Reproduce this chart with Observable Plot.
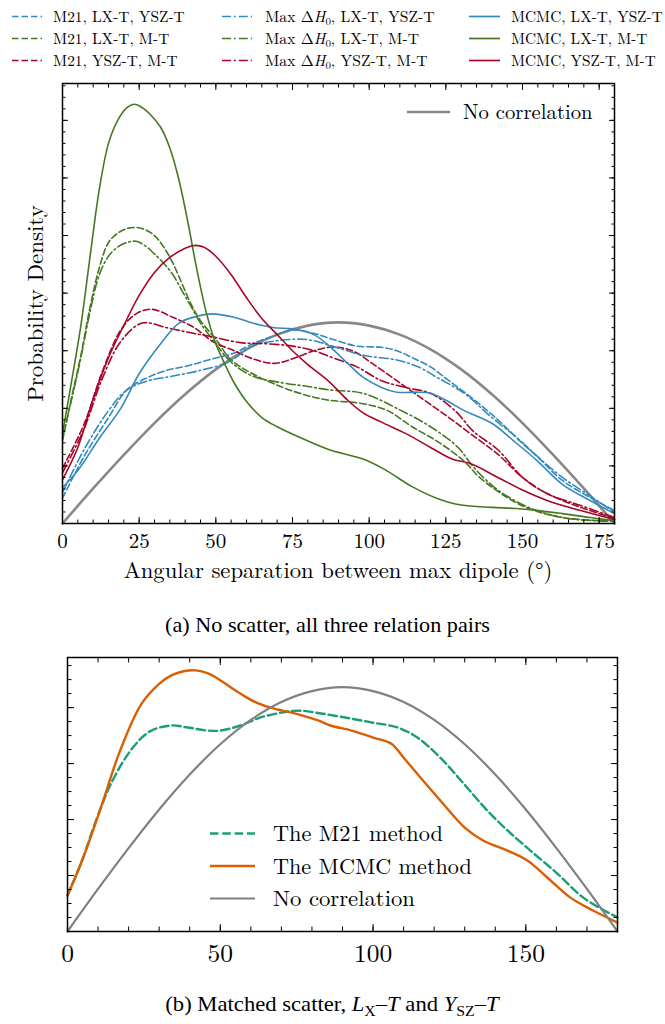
<!DOCTYPE html>
<html>
<head>
<meta charset="utf-8">
<script src="https://cdn.jsdelivr.net/npm/d3@7"></script>
<script src="https://cdn.jsdelivr.net/npm/@observablehq/plot@0.6"></script>
<style>
html,body{margin:0;padding:0;background:#fff;}
#root{position:relative;width:665px;height:1024px;overflow:hidden;background:#fff;}
</style>
</head>
<body>
<div id="root"></div>
<script>
// ================= DATA =================
const methods = ["M21", "Max ΔH0", "MCMC"];
const relationPairs = ["LX-T, YSZ-T", "LX-T, M-T", "YSZ-T, M-T"];
const xTicksA = [0, 25, 50, 75, 100, 125, 150, 175];
const yTicksA = [0, 2.5, 5, 7.5, 10, 12.5, 15, 17.5];
const xTicksB = [0, 50, 100, 150];
const yTicksB = [0, 2, 4, 6, 8];
const xLabelA = "Angular separation between max dipole (°)";
const yLabelA = "Probability Density";
const legendB = ["The M21 method", "The MCMC method", "No correlation"];
const captionA = "(a) No scatter, all three relation pairs";

// density (x10^-3 per degree) vs angle (deg)
const noCorrelation = [[0,0],[10,1.52],[20,2.98],[30,4.36],[40,5.61],[50,6.69],[60,7.56],[70,8.20],[80,8.59],[90,8.73],[100,8.59],[110,8.20],[120,7.56],[130,6.69],[140,5.61],[150,4.36],[160,2.98],[170,1.52],[180,0]];

const m21LxYsz = [[0,1.1],[7,2.9],[15,4.6],[21,5.8],[28,6.35],[34,6.65],[41,6.85],[49,7.15],[56,7.4],[62,7.8],[69,8.15],[75,8.4],[82,8.25],[88,8.0],[96,7.7],[104,7.65],[109,7.5],[114,7.2],[120,6.8],[126,6.2],[133,5.5],[142,4.5],[149,3.6],[156,2.75],[163,1.87],[172,1.13],[180,0.56]];
const m21LxM = [[0,3.6],[3,5.5],[6,7.3],[9,9.4],[12,11.1],[15,12.2],[18,12.6],[21,12.8],[24,12.85],[27,12.75],[30,12.5],[33,12.0],[36,11.3],[39,10.4],[42,9.5],[45,8.8],[50,8.0],[55,7.1],[62,6.5],[72,5.9],[80,5.55],[87,5.35],[98,5.2],[106,4.9],[114,4.2],[123,3.5],[131,2.7],[136,2.0],[145,1.13],[152,0.65],[163,0.26],[174,0.13],[180,0.1]];
const m21YszM = [[0,2.4],[7,4.3],[13,6.6],[19,8.4],[24,9.1],[29,9.3],[36,8.95],[43,8.5],[49,7.9],[56,7.5],[62,7.15],[69,6.95],[75,7.15],[82,7.5],[87,7.65],[92,7.6],[96,7.4],[101,6.95],[109,6.2],[118,5.35],[126,4.6],[133,3.9],[142,3.0],[150,2.0],[158,1.3],[169,0.7],[180,0.22]];
const maxLxYsz = [[0,1.35],[7,3.2],[15,4.9],[21,5.8],[28,6.2],[36,6.4],[45,6.65],[54,7.0],[62,7.7],[71,7.95],[80,7.98],[88,7.7],[98,7.3],[109,7.1],[116,6.8],[122,6.35],[131,5.65],[140,4.6],[148,3.75],[155,2.9],[163,2.0],[172,1.2],[180,0.48]];
const maxLxM = [[0,3.7],[3,5.4],[6,7.2],[9,9.2],[12,10.8],[15,11.6],[18,12.0],[21,12.2],[24,12.25],[27,12.05],[30,11.7],[33,11.3],[36,10.8],[39,10.1],[42,9.4],[45,8.7],[50,7.8],[55,7.0],[62,6.4],[72,6.1],[80,5.95],[87,5.8],[98,5.65],[109,5.0],[120,4.2],[129,3.3],[134,2.45],[142,1.45],[152,0.7],[163,0.26],[174,0.12],[180,0.1]];
const maxYszM = [[0,2.2],[7,4.1],[13,6.3],[19,7.9],[26,8.7],[34,8.5],[41,8.3],[49,8.1],[58,7.85],[67,7.8],[75,7.7],[82,7.5],[87,7.25],[96,6.8],[104,6.2],[112,5.9],[120,5.65],[128,4.9],[134,4.0],[142,3.2],[150,2.0],[158,1.3],[169,0.78],[180,0.26]];
const mcmcLxYsz = [[0,1.56],[5,2.3],[12,3.7],[19,5.0],[25,6.5],[32,7.8],[38,8.7],[44,9.0],[49,9.1],[56,8.95],[62,8.7],[69,8.5],[75,8.45],[82,8.2],[87,7.7],[93,6.95],[98,6.35],[104,5.9],[109,5.7],[116,5.7],[120,5.65],[125,5.35],[131,4.9],[140,4.35],[147,3.6],[155,2.7],[163,1.7],[172,1.0],[180,0.43]];
const mcmcLxM = [[0,3.9],[3,6.2],[6,8.6],[9,11.6],[12,14.5],[15,16.5],[18,17.5],[21,18.05],[23.5,18.2],[26,18.05],[29,17.7],[32,17.2],[35,16.3],[38,14.9],[41,13.0],[44,10.9],[47,9.1],[50,7.8],[53,6.9],[56,6.1],[60,5.3],[65,4.6],[70,4.2],[78,3.7],[87,3.2],[98,2.8],[105,2.35],[114,1.6],[122,1.1],[130,0.8],[140,0.7],[148,0.65],[156,0.55],[163,0.43],[170,0.3],[175,0.2],[180,0.13]];
const mcmcYszM = [[0,1.9],[5,3.3],[10,5.4],[15,7.2],[20,8.6],[25,9.9],[30,10.9],[35,11.55],[40,11.95],[43,12.07],[46,12.0],[50,11.6],[55,10.8],[60,9.8],[65,8.9],[70,8.2],[75,7.5],[80,6.9],[87,6.15],[93,5.35],[98,4.8],[104,4.4],[112,3.9],[120,3.3],[127,2.8],[133,2.6],[142,2.0],[150,1.45],[158,1.0],[169,0.56],[180,0.17]];

const m21B = [[0,1.29],[4.3,2.4],[9.8,4.1],[15,5.45],[21.6,6.6],[27,7.15],[33.7,7.36],[39.3,7.29],[45.8,7.18],[50,7.18],[56.6,7.36],[63,7.64],[70,7.82],[76,7.89],[83,7.79],[92.6,7.61],[100,7.46],[108,7.29],[114.5,6.93],[122,6.21],[129.6,5.29],[137.4,4.32],[144,3.61],[151.5,2.89],[160.3,2.07],[168.8,1.21],[180,0.5]];
const mcmcB = [[0,1.29],[5,2.6],[11,4.45],[17,6.4],[24,8.1],[30,8.85],[34,9.15],[38,9.3],[42,9.33],[46,9.22],[50,8.98],[54,8.68],[58,8.4],[62,8.17],[67,7.98],[74,7.8],[82,7.54],[86,7.36],[93,7.18],[100,6.93],[106,6.71],[110,6.21],[115.5,5.5],[122,4.68],[130,3.71],[136,3.25],[144,2.89],[150.5,2.54],[157,1.93],[164.6,1.21],[172,0.75],[180,0.32]];

// series table (method index, pair index, values)
const seriesA = [
  {m: 0, p: 0, data: m21LxYsz}, {m: 0, p: 1, data: m21LxM}, {m: 0, p: 2, data: m21YszM},
  {m: 1, p: 0, data: maxLxYsz}, {m: 1, p: 1, data: maxLxM}, {m: 1, p: 2, data: maxYszM},
  {m: 2, p: 0, data: mcmcLxYsz}, {m: 2, p: 1, data: mcmcLxM}, {m: 2, p: 2, data: mcmcYszM}
];

// ================= STYLES =================
const pairColors = ["#348ABD", "#467821", "#A60628"];
const methodDash = ["6.5,3", "9,3,1.8,3", null];
const grayA = "#888888", grayB = "#808080";
const colB = {m21: "#1b9e77", mcmc: "#d95f02"};

function hasFont(f) {
  const c = document.createElement("canvas").getContext("2d");
  const s = "mmmmmmmmmmlli WQ@#AaBbgy 0123456789";
  for (const fb of ["monospace", "sans-serif"]) {
    c.font = `40px ${fb}`; const w1 = c.measureText(s).width;
    c.font = `40px "${f}", ${fb}`; const w2 = c.measureText(s).width;
    if (Math.abs(w1 - w2) < 0.01) return false;
  }
  return true;
}
const cmLike = ["Latin Modern Roman", "CMU Serif", "Computer Modern", "Liberation Serif", "Times New Roman", "DejaVu Serif"].find(hasFont) || "serif";
const timesLike = ["Liberation Serif", "Times New Roman", "Tinos", "Nimbus Roman", "Nimbus Roman No9 L", "FreeSerif", "TeX Gyre Termes", cmLike].find(hasFont) || "serif";
const FONT = `"${cmLike}", serif`;
const CAPFONT = `"${timesLike}", serif`;

const root = document.getElementById("root");

function frameTicks(xMajor, xMinor, yMajor, yMinor, big, small) {
  const o = {fill: "none", label: null, strokeWidth: 1};
  return [
    Plot.axisX(xMinor, {...o, anchor: "bottom", tickSize: -small}),
    Plot.axisX(xMajor, {...o, anchor: "bottom", tickSize: -big}),
    Plot.axisX(xMinor, {...o, anchor: "top", tickSize: -small}),
    Plot.axisX(xMajor, {...o, anchor: "top", tickSize: -big}),
    Plot.axisY(yMinor, {...o, anchor: "left", tickSize: -small}),
    Plot.axisY(yMajor, {...o, anchor: "left", tickSize: -big}),
    Plot.axisY(yMinor, {...o, anchor: "right", tickSize: -small}),
    Plot.axisY(yMajor, {...o, anchor: "right", tickSize: -big})
  ];
}

const xy = {x: d => d[0], y: d => d[1], curve: "catmull-rom"};

// ================= PANEL A =================
const plotA = Plot.plot({
  width: 665, height: 530,
  marginTop: 23, marginBottom: 67, marginLeft: 62, marginRight: 51,
  x: {domain: [0, 180], axis: null},
  y: {domain: [0, 19.1], axis: null},
  style: {fontFamily: FONT, fontSize: "21px", color: "#000", background: "transparent"},
  marks: [
    Plot.line(noCorrelation, {...xy, stroke: grayA, strokeWidth: 2.6}),
    ...seriesA.map(s => Plot.line(s.data, {...xy, stroke: pairColors[s.p], strokeWidth: 1.6,
        strokeDasharray: methodDash[s.m] || undefined})),
    ...frameTicks(xTicksA, d3.range(0, 181, 5), yTicksA, d3.range(0, 19.1, 0.5), 6, 3.5),
    Plot.axisX(xTicksA, {anchor: "bottom", tickSize: 0, tickPadding: 10, label: null, fontSize: 21}),
    Plot.frame({stroke: "#000", strokeWidth: 1.5})
  ]
});
plotA.style.position = "absolute"; plotA.style.left = "0px"; plotA.style.top = "60px";
root.appendChild(plotA);

// ================= PANEL B =================
const plotB = Plot.plot({
  width: 665, height: 340,
  marginTop: 17, marginBottom: 49, marginLeft: 67, marginRight: 48,
  x: {domain: [0, 180], axis: null},
  y: {domain: [0, 9.79], axis: null},
  style: {fontFamily: FONT, fontSize: "25.5px", color: "#000", background: "transparent"},
  marks: [
    Plot.line(m21B, {...xy, stroke: colB.m21, strokeWidth: 2.4, strokeDasharray: "8.5,3.8"}),
    Plot.line(mcmcB, {...xy, stroke: colB.mcmc, strokeWidth: 2.4}),
    Plot.line(noCorrelation, {...xy, stroke: grayB, strokeWidth: 2.2}),
    ...frameTicks(xTicksB, d3.range(0, 181, 10), yTicksB, d3.range(0, 9.79, 0.5), 7, 4.5),
    Plot.axisX(xTicksB, {anchor: "bottom", tickSize: 0, tickPadding: 12, label: null, fontSize: 25.5}),
    Plot.frame({stroke: "#000", strokeWidth: 1.5})
  ]
});
plotB.style.position = "absolute"; plotB.style.left = "0px"; plotB.style.top = "640px";
root.appendChild(plotB);

// ================= TEXT / LEGEND OVERLAY =================
const NS = "http://www.w3.org/2000/svg";
function el(name, attrs, parent) {
  const e = document.createElementNS(NS, name);
  for (const k in attrs) if (attrs[k] != null) e.setAttribute(k, attrs[k]);
  if (parent) parent.appendChild(e);
  return e;
}
const ov = el("svg", {width: 665, height: 1024, viewBox: "0 0 665 1024"});
ov.style.position = "absolute"; ov.style.left = "0px"; ov.style.top = "0px";
root.appendChild(ov);

function txt(parts, o) {
  const size = o.size, g = el("g", {}, ov);
  const t = el("text", {"text-anchor": o.anchor || "start", fill: "#000"}, g);
  t.style.fontFamily = o.font || FONT; t.style.fontSize = size + "px";
  let shifted = false;
  for (const p of parts) {
    const ts = el("tspan", {}, t);
    if (p.i) ts.setAttribute("font-style", "italic");
    if (p.sub) {
      ts.setAttribute("font-size", size * 0.7);
      if (!shifted) { ts.setAttribute("dy", size * 0.22); shifted = true; }
    } else if (shifted) { ts.setAttribute("dy", -size * 0.22); shifted = false; }
    ts.textContent = p.t;
  }
  let s = o.sx || 1;
  if (o.target) { const w = t.getBBox().width; if (w > 0) s = o.target / w; }
  g.setAttribute("transform", `translate(${o.x},${o.y}) rotate(${o.rot || 0}) scale(${s},1)`);
  return s;
}
function seg(x1, x2, y, stroke, sw, dash) {
  el("line", {x1, x2, y1: y, y2: y, stroke, "stroke-width": sw, "stroke-dasharray": dash}, ov);
}
function methodParts(m) {
  if (m === 1) return [{t: "Max Δ"}, {t: "H", i: 1}, {t: "0", sub: 1}];
  return [{t: methods[m]}];
}

// top legend (3 columns = methods, 3 rows = relation pairs)
const colLineX = [[12, 42], [222, 252], [469, 500]];
const colTextX = [53, 265, 511];
const colTarget = [132, 170, 152];
const rowBase = [21.5, 43.5, 65.5];
methods.forEach((m, mi) => {
  let sx = 1;
  relationPairs.forEach((p, pi) => {
    seg(colLineX[mi][0], colLineX[mi][1], rowBase[pi] - 5, pairColors[pi], 1.7, methodDash[mi]);
    const parts = [...methodParts(mi), {t: ", " + p}];
    if (pi === 0) sx = txt(parts, {x: colTextX[mi], y: rowBase[pi], size: 15, target: colTarget[mi]});
    else txt(parts, {x: colTextX[mi], y: rowBase[pi], size: 15, sx});
  });
});

// panel A labels
txt([{t: xLabelA}], {x: 338, y: 578, size: 22, anchor: "middle", target: 429});
txt([{t: yLabelA}], {x: 43, y: 303.5, size: 22, anchor: "middle", rot: -90, target: 197});
seg(407, 450, 112, grayA, 2.6);
txt([{t: "No correlation"}], {x: 463, y: 119, size: 21, target: 130});
txt([{t: captionA}], {x: 327.5, y: 632, size: 21, anchor: "middle", target: 325, font: CAPFONT});

// panel B legend
const legBBase = [841, 873.5, 906];
const legBStyle = [[colB.m21, "8.5,3.8", 2.4], [colB.mcmc, null, 2.4], [grayB, null, 2.2]];
const legBTarget = [170, 199, 142];
legendB.forEach((l, i) => {
  seg(210, 255, legBBase[i] - 7.5, legBStyle[i][0], legBStyle[i][2], legBStyle[i][1]);
  txt([{t: l}], {x: 273, y: legBBase[i], size: 22, target: legBTarget[i]});
});
txt([{t: "(b) Matched scatter, "}, {t: "L", i: 1}, {t: "X", sub: 1}, {t: "–"}, {t: "T", i: 1}, {t: " and "},
     {t: "Y", i: 1}, {t: "SZ", sub: 1}, {t: "–"}, {t: "T", i: 1}],
    {x: 332, y: 1011, size: 21, anchor: "middle", target: 335, font: CAPFONT});
</script>
</body>
</html>
